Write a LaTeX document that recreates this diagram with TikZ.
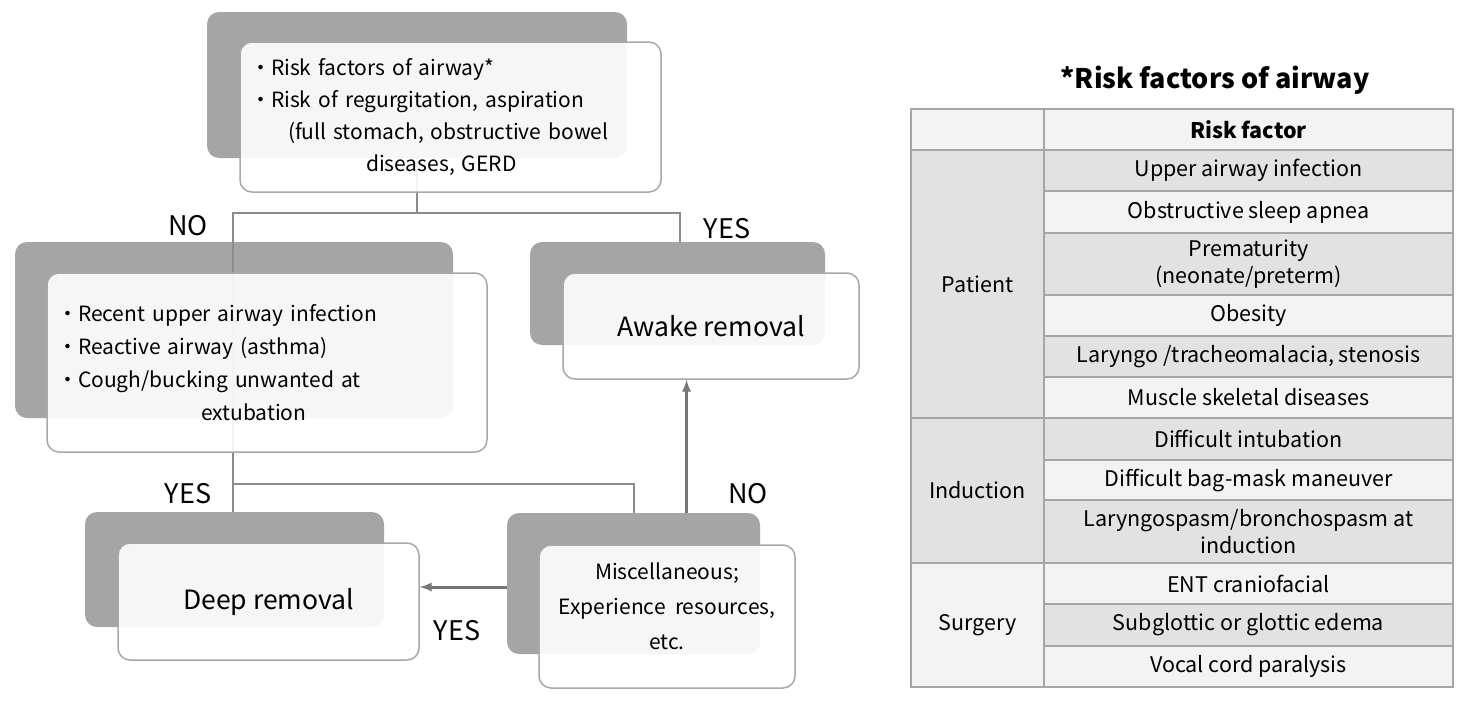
\documentclass[tikz,border=0pt]{standalone}
\usepackage{fontspec}
\setmainfont{Noto Sans CJK JP}
\usepackage{tikz}

\definecolor{boxgray}{HTML}{A5A5A5}
\definecolor{edgegray}{HTML}{A8A8A8}
\definecolor{conngray}{HTML}{8C8C8C}
\definecolor{arrgray}{HTML}{777777}
\definecolor{tabgray}{HTML}{A6A6A6}
\definecolor{celldark}{HTML}{E2E2E2}
\definecolor{celllight}{HTML}{F3F3F3}

\begin{document}
\begin{tikzpicture}[%
      x=1pt, y=-1pt,
      backbox/.style={rectangle, rounded corners=12pt, fill=boxgray, draw=none},
      frontbox/.style={rectangle, rounded corners=12pt, draw=edgegray, line width=1.5pt,
        fill=white, fill opacity=0.9, text opacity=1},
      bodytext/.style={font=\fontsize{21}{32}\selectfont},
      bigtext/.style={font=\fontsize{26.5}{30}\selectfont},
      lbl/.style={font=\fontsize{27}{30}\selectfont},
      conn/.style={color=conngray, line width=2pt},
      arr/.style={color=arrgray, line width=3pt, -latex},
      cell/.style={rectangle, draw=tabgray, line width=2.5pt, inner sep=0pt, align=center,
        font=\fontsize{21.5}{27}\selectfont},
      rcell/.style={cell, minimum width=409pt},
      lcell/.style={cell, minimum width=133pt},
      ]
      \useasboundingbox (0,0) rectangle (1466,704);

      % back boxes
      \node (topB) [backbox, minimum width=420pt, minimum height=146pt] at (417,85) {};
      \node (condB) [backbox, minimum width=438pt, minimum height=176pt] at (234,330) {};
      \node (awakeB) [backbox, minimum width=295pt, minimum height=103pt] at (677.5,293.5) {};
      \node (deepB) [backbox, minimum width=299pt, minimum height=115pt] at (234.5,569.5) {};
      \node (miscB) [backbox, minimum width=253pt, minimum height=141pt] at (633.5,583.5) {};

      % connectors
      \coordinate (splitL) at (233,213);
      \coordinate (splitR) at (680,213);
      \coordinate (yesL) at (233,484);
      \draw [conn] (topB.south) -- (topB.south |- splitL);
      \draw [conn] (awakeB.north -| splitR) -- (splitR) -- (splitL) -- (deepB.north -| splitL);
      \draw [conn] (yesL) -| (miscB.north);

      % front boxes
      \node (topF) [frontbox, bodytext, minimum height=150pt, text width=401pt, inner xsep=10pt,
        align=left] at (450.5,117) {・Risk factors of airway*\\
        ・Risk of regurgitation, aspiration\\
        \hspace*{38pt}(full stomach, obstructive bowel\\
        \hspace*{116pt}diseases, GERD};
      \node (condF) [frontbox, bodytext, font=\fontsize{21}{33}\selectfont, minimum height=179pt,
        text width=420pt, inner xsep=10pt, align=left] at (267,362.5) {・Recent upper airway infection\\
        ・Reactive airway (asthma)\\
        ・Cough/bucking unwanted at\\
        \hspace*{144pt}extubation};
      \node (awakeF) [frontbox, bigtext, minimum width=296pt, minimum height=106pt] at (711,326) {Awake removal};
      \node (deepF) [frontbox, bigtext, minimum width=301pt, minimum height=117pt] at (268.5,601.5) {Deep removal};
      \node (miscF) [frontbox, minimum width=256pt, minimum height=143pt] at (667,616.5) {};
      \node (miscT) [bodytext, font=\fontsize{21}{35}\selectfont, align=center] at ([yshift=10pt]miscF.center)
        {Miscellaneous;\\Experience\ \ resources,\\etc.};

      % arrows
      \draw [arr] ([xshift=53pt]miscB.north) -- ([xshift=53pt]miscB.north |- awakeF.south);
      \draw [arr] ([yshift=-3.5pt]miscB.west) -- ([yshift=-3.5pt]miscB.west -| deepF.east);

      % branch labels
      \node (noTop) [lbl] at (188,226) {NO};
      \node (yesTop) [lbl] at (727,229) {YES};
      \node (yesCond) [lbl] at (188,494) {YES};
      \node (noMisc) [lbl] at (748,494) {NO};
      \node (yesMisc) [lbl] at (457,631) {YES};

      % risk factor table
      \node (tabTitle) [font=\fontsize{27}{30}\selectfont\bfseries] at (1215,80) {*Risk factors of airway};
      \node (hdL) [lcell, fill=celllight, minimum height=41pt] at (977.5,129.5) {};
      \node (hdR) [rcell, fill=celllight, minimum height=41pt] at (1248.5,129.5) {\bfseries Risk factor};
      \node (grpPat) [lcell, fill=celldark, minimum height=268pt] at (977.5,284) {Patient};
      \node (grpInd) [lcell, fill=celldark, minimum height=145pt] at (977.5,490.5) {Induction};
      \node (grpSur) [lcell, fill=celllight, minimum height=124pt] at (977.5,625) {Surgery};
      \node (rfA) [rcell, fill=celldark, minimum height=41pt] at (1248.5,170.5) {Upper airway infection};
      \node (rfB) [rcell, fill=celllight, minimum height=42pt] at (1248.5,212) {Obstructive sleep apnea};
      \node (rfC) [rcell, fill=celldark, minimum height=62pt] at (1248.5,264) {Prematurity\\(neonate/preterm)};
      \node (rfD) [rcell, fill=celllight, minimum height=41pt] at (1248.5,315.5) {Obesity};
      \node (rfE) [rcell, fill=celldark, minimum height=41pt] at (1248.5,356.5) {Laryngo /tracheomalacia, stenosis};
      \node (rfF) [rcell, fill=celllight, minimum height=41pt] at (1248.5,397.5) {Muscle skeletal diseases};
      \node (rfG) [rcell, fill=celldark, minimum height=42pt] at (1248.5,439) {Difficult intubation};
      \node (rfH) [rcell, fill=celllight, minimum height=40pt] at (1248.5,480) {Difficult bag-mask maneuver};
      \node (rfI) [rcell, fill=celldark, minimum height=63pt] at (1248.5,531.5) {Laryngospasm/bronchospasm at\\induction};
      \node (rfJ) [rcell, fill=celllight, minimum height=41pt] at (1248.5,583.5) {ENT craniofacial};
      \node (rfK) [rcell, fill=celldark, minimum height=42pt] at (1248.5,625) {Subglottic or glottic edema};
      \node (rfL) [rcell, fill=celllight, minimum height=41pt] at (1248.5,666.5) {Vocal cord paralysis};
\end{tikzpicture}
\end{document}
